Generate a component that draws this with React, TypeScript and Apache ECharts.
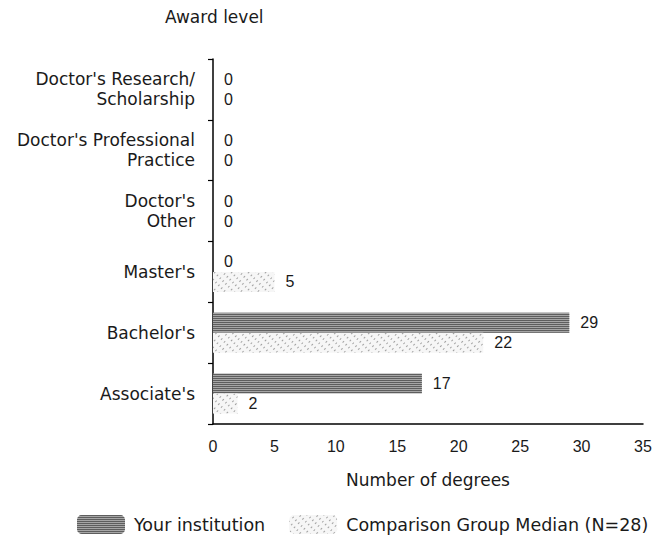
import React, { useEffect, useRef } from "react";
import * as echarts from "echarts";

const categories = [
  "Doctor's Research/\nScholarship",
  "Doctor's Professional\nPractice",
  "Doctor's\nOther",
  "Master's",
  "Bachelor's",
  "Associate's",
];
const yourInstitution = [0, 0, 0, 0, 29, 17];
const comparisonMedian = [0, 0, 0, 5, 22, 2];
const xTicks = { min: 0, max: 35, interval: 5 };
const seriesNames = ["Your institution", "Comparison Group Median (N=28)"];

const WORD_FONT = "DejaVu Sans";
const NUM_FONT = "Liberation Sans";
const INK = "#1a1a1a";

export default function App() {
  const ref = useRef<HTMLDivElement>(null);
  useEffect(() => {
    if (!ref.current) return;
    const chart = echarts.init(ref.current, undefined, { renderer: "svg" });
    const labelCfg = {
      show: true,
      position: "right" as const,
      distance: 11,
      color: INK,
      fontFamily: NUM_FONT,
      fontSize: 16,
      formatter: (p: any) => String(p.value),
    };
    chart.setOption({
      animation: false,
      backgroundColor: "#ffffff",
      title: {
        text: "Award level",
        left: 160,
        top: 3,
        textStyle: { fontFamily: WORD_FONT, fontSize: 17, fontWeight: "normal", color: INK },
      },
      legend: {
        left: 72,
        top: 510,
        itemWidth: 48,
        itemHeight: 19,
        itemGap: 24,
        textStyle: { fontFamily: WORD_FONT, fontSize: 17.5, color: INK, padding: [0, 0, 0, 4] },
        data: seriesNames,
      },
      grid: { left: 213, right: 20, top: 59, bottom: 113, containLabel: false },
      xAxis: {
        type: "value",
        min: xTicks.min,
        max: xTicks.max,
        interval: xTicks.interval,
        name: "Number of degrees",
        nameLocation: "middle",
        nameGap: 47,
        nameTextStyle: { fontFamily: WORD_FONT, fontSize: 17, color: INK },
        axisLine: { show: true, lineStyle: { color: "#000", width: 1.5 } },
        axisTick: { show: false },
        splitLine: { show: false },
        axisLabel: { fontFamily: NUM_FONT, fontSize: 16, color: INK, margin: 14 },
      },
      yAxis: {
        type: "category",
        inverse: true,
        data: categories,
        axisLine: { show: true, lineStyle: { color: "#000", width: 1.5 } },
        axisTick: { show: true, length: 5, lineStyle: { color: "#000", width: 1.2 } },
        axisLabel: {
          fontFamily: WORD_FONT,
          fontSize: 17,
          color: INK,
          margin: 18,
          lineHeight: 20,
          align: "right",
        },
      },
      series: [
        {
          name: seriesNames[0],
          type: "bar",
          data: yourInstitution,
          barWidth: 20,
          barGap: "0%",
          itemStyle: {
            color: "#a6a6a6",
            decal: {
              symbol: "rect",
              symbolSize: 1,
              dashArrayX: [1, 0],
              dashArrayY: [1, 1],
              rotation: 0,
              color: "#5e5e5e",
            },
          },
          label: labelCfg,
        },
        {
          name: seriesNames[1],
          type: "bar",
          data: comparisonMedian,
          barWidth: 20,
          barGap: "0%",
          itemStyle: {
            color: "#f6f6f6",
            decal: {
              symbol: "rect",
              symbolSize: 1,
              dashArrayX: [[2, 4]],
              dashArrayY: [1, 3],
              rotation: -Math.PI / 4,
              color: "#a0a0a0",
            },
          },
          label: labelCfg,
        },
      ],
    });
    return () => chart.dispose();
  }, []);
  return (
    <div
      ref={ref}
      style={{ position: "absolute", left: 0, top: 0, width: 663, height: 537 }}
    />
  );
}
